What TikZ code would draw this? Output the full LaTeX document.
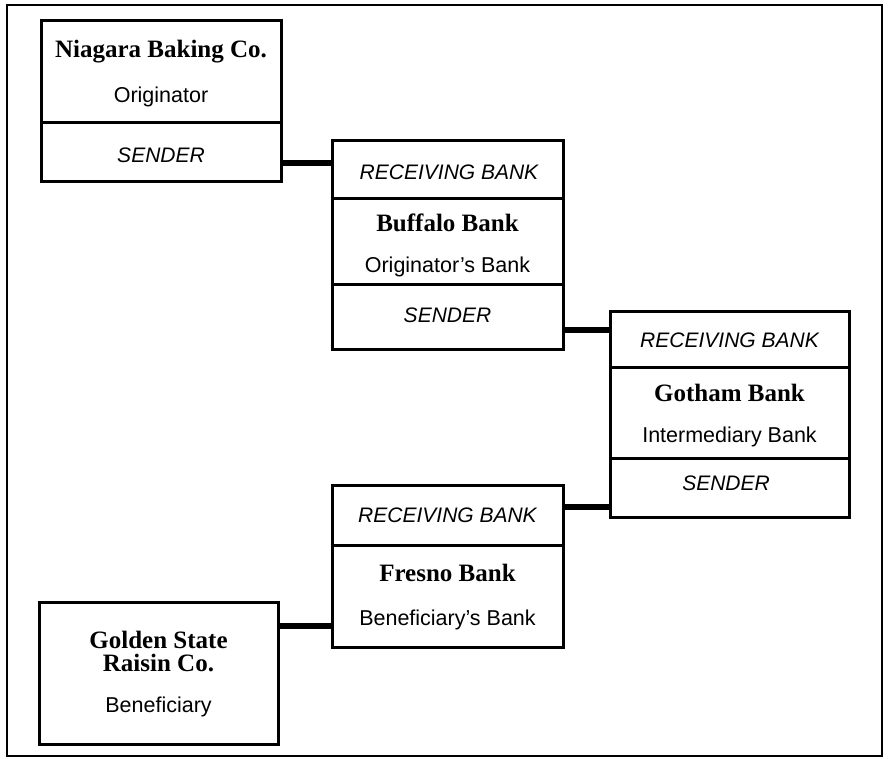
\documentclass[tikz,border=0pt]{standalone}
\usepackage{fontspec}
\setmainfont{Liberation Serif}
\setsansfont{Liberation Sans}
\begin{document}
\begin{tikzpicture}[x=1pt,y=-1pt,
  box/.style={draw, line width=3pt, rectangle, inner sep=0pt},
  divider/.style={line width=3pt},
  conn/.style={line width=6.5pt},
  frame/.style={line width=1.8pt},
  bankname/.style={font=\fontsize{25}{23}\selectfont\bfseries, align=center},
  role/.style={font=\sffamily\fontsize{21.5}{23}\selectfont},
  tag/.style={font=\sffamily\itshape\fontsize{21}{23}\selectfont}]
\useasboundingbox (0,0) rectangle (888,759);
\draw[frame] (7,5) rectangle (882,756);

% boxes
\node[box, minimum width=240pt, minimum height=161pt] (niag) at (161,101.5) {};
\node[box, minimum width=231pt, minimum height=208pt] (buff) at (447.5,245) {};
\node[box, minimum width=239pt, minimum height=206pt] (goth) at (729.5,414) {};
\node[box, minimum width=231pt, minimum height=162pt] (fres) at (447.5,566) {};
\node[box, minimum width=239pt, minimum height=142pt] (gold) at (158.5,673) {};

% dividers
\draw[divider] (niag.west |- 0,123) -- (niag.east |- 0,123);
\draw[divider] (buff.west |- 0,199) -- (buff.east |- 0,199);
\draw[divider] (buff.west |- 0,284) -- (buff.east |- 0,284);
\draw[divider] (goth.west |- 0,367) -- (goth.east |- 0,367);
\draw[divider] (goth.west |- 0,458) -- (goth.east |- 0,458);
\draw[divider] (fres.west |- 0,545) -- (fres.east |- 0,545);

% connectors
\draw[conn] (niag.east |- 0,163) -- (buff.west |- 0,163);
\draw[conn] (buff.east |- 0,330) -- (goth.west |- 0,330);
\draw[conn] (goth.west |- 0,507) -- (fres.east |- 0,507);
\draw[conn] (fres.west |- 0,626) -- (gold.east |- 0,626);

% texts
\node[bankname] (t1) at (161,52) {Niagara Baking Co.};
\node[role] (t2) at (161,97) {Originator};
\node[tag] (t3) at (161,155) {SENDER};

\node[tag] (t4) at (449,172) {RECEIVING BANK};
\node[bankname] (t5) at (447.5,223) {Buffalo Bank};
\node[role] (t6) at (447.5,267) {Originator's Bank};
\node[tag] (t7) at (447.5,315) {SENDER};

\node[tag] (t8) at (729.5,340) {RECEIVING BANK};
\node[bankname] (t9) at (729.5,393) {Gotham Bank};
\node[role] (t10) at (729.5,437) {Intermediary Bank};
\node[tag] (t11) at (726,483) {SENDER};

\node[tag] (t12) at (447.5,515) {RECEIVING BANK};
\node[bankname] (t13) at (447.5,573) {Fresno Bank};
\node[role] (t14) at (447.5,620) {Beneficiary's Bank};

\node[bankname] (t15) at (158.5,651) {Golden State\\Raisin Co.};
\node[role] (t16) at (158.5,707) {Beneficiary};
\end{tikzpicture}
\end{document}
